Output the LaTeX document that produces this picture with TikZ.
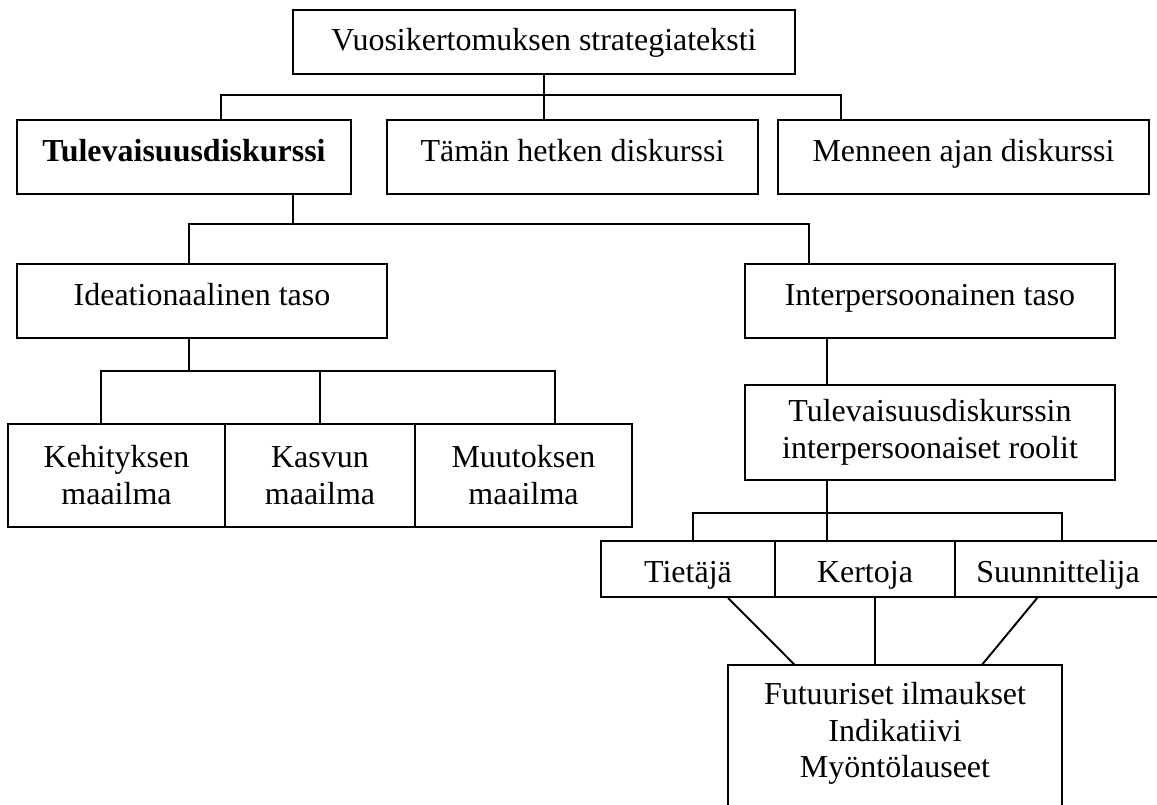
\documentclass[tikz,border=0pt]{standalone}
\usepackage{fontspec}
\setmainfont{Liberation Serif}
\usepackage{tikz}
\usetikzlibrary{calc}

\begin{document}
\begin{tikzpicture}[x=0.02cm, y=-0.02cm, line width=1.1pt,
  every node/.style={font=\fontsize{18.2}{21}\selectfont, inner sep=0pt},
  box/.style={draw, minimum width=#1, align=center},
  rowbox/.style={box=#1, minimum height=1.48cm, text height=0.52cm, text depth=0.36cm},
  rolebox/.style={box=#1, minimum height=1.12cm, text height=0.52cm, text depth=0cm},
  worldbox/.style={box=#1, minimum height=2.06cm}]
\useasboundingbox (0,0) rectangle (1157,805);
\clip (0,0) rectangle (1157,805);

% boxes
\node[box=10.04cm, minimum height=1.28cm, text height=0.52cm, text depth=0.16cm] (top) at (544,42) {Vuosikertomuksen strategiateksti};
\node[rowbox=6.68cm] (tul) at (184,157) {\textbf{Tulevaisuusdiskurssi}};
\node[rowbox=7.42cm] (nyt) at (572.5,157) {Tämän hetken diskurssi};
\node[rowbox=7.42cm] (menn) at (963.5,157) {Menneen ajan diskurssi};
\node[rowbox=7.40cm] (idea) at (202,301) {Ideationaalinen taso};
\node[rowbox=7.40cm] (inter) at (930,301) {Interpersoonainen taso};
\node[box=7.40cm, minimum height=1.90cm] (rool) at (930,432.5) {Tulevaisuusdiskurssin\\interpersoonaiset roolit};
\node[worldbox=4.34cm] (keh) at (116.5,475.5) {Kehityksen\\maailma};
\node[worldbox=3.80cm] (kasv) at (320,475.5) {Kasvun\\maailma};
\node[worldbox=4.34cm] (muut) at (523.5,475.5) {Muutoksen\\maailma};
\node[rolebox=3.48cm] (tiet) at (688,569) {Tietäjä};
\node[rolebox=3.60cm] (kert) at (865,569) {Kertoja};
\node[rolebox=4.12cm] (suun) at (1058,569) {Suunnittelija};
\node[anchor=north, align=center, minimum width=6.64cm, inner ysep=0.32cm] (fut) at (895,665) {Futuuriset ilmaukset\\Indikatiivi\\Myöntölauseet};

% bus lines
\coordinate (b1l) at (221,95);
\coordinate (b1r) at (841,95);
\coordinate (b2l) at (189,224);
\coordinate (b2r) at (809,224);
\coordinate (b2s) at (293,224);
\coordinate (b3l) at (101,371);
\coordinate (b3r) at (555,371);
\coordinate (b4l) at (693,513);
\coordinate (b4r) at (1062,513);
\coordinate (b4s) at (827,513);

\draw (top.south) -- (top.south |- nyt.north);
\draw (b1l |- tul.north) -- (b1l) -- (b1r) -- (b1r |- menn.north);
\draw (b2s |- tul.south) -- (b2s);
\draw (b2l |- idea.north) -- (b2l) -- (b2r) -- (b2r |- inter.north);
\draw (b2l |- idea.south) -- (b2l |- b3l);
\draw (b3l |- keh.north) -- (b3l) -- (b3r) -- (b3r |- muut.north);
\draw (kasv.north) -- (kasv.north |- b3l);
\draw (b4s |- inter.south) -- (b4s |- rool.north);
\draw (b4s |- rool.south) -- (b4s |- kert.north);
\draw (b4l |- tiet.north) -- (b4l) -- (b4r) -- (b4r |- suun.north);

% roles to the bottom box
\coordinate (f1) at ($(fut.north west)!0.2!(fut.north east)$);
\coordinate (f2) at ($(fut.north west)!0.44!(fut.north east)$);
\coordinate (f3) at ($(fut.north west)!0.76!(fut.north east)$);
\draw (tiet.south -| fut.north west) -- (f1);
\draw (f2 |- kert.south) -- (f2);
\draw ($(suun.south west)!0.4!(suun.south east)$) -- (f3);
\draw ([yshift=-1cm]fut.south west) -- (fut.north west) -- (fut.north east) -- ([yshift=-1cm]fut.south east);
\end{tikzpicture}
\end{document}
